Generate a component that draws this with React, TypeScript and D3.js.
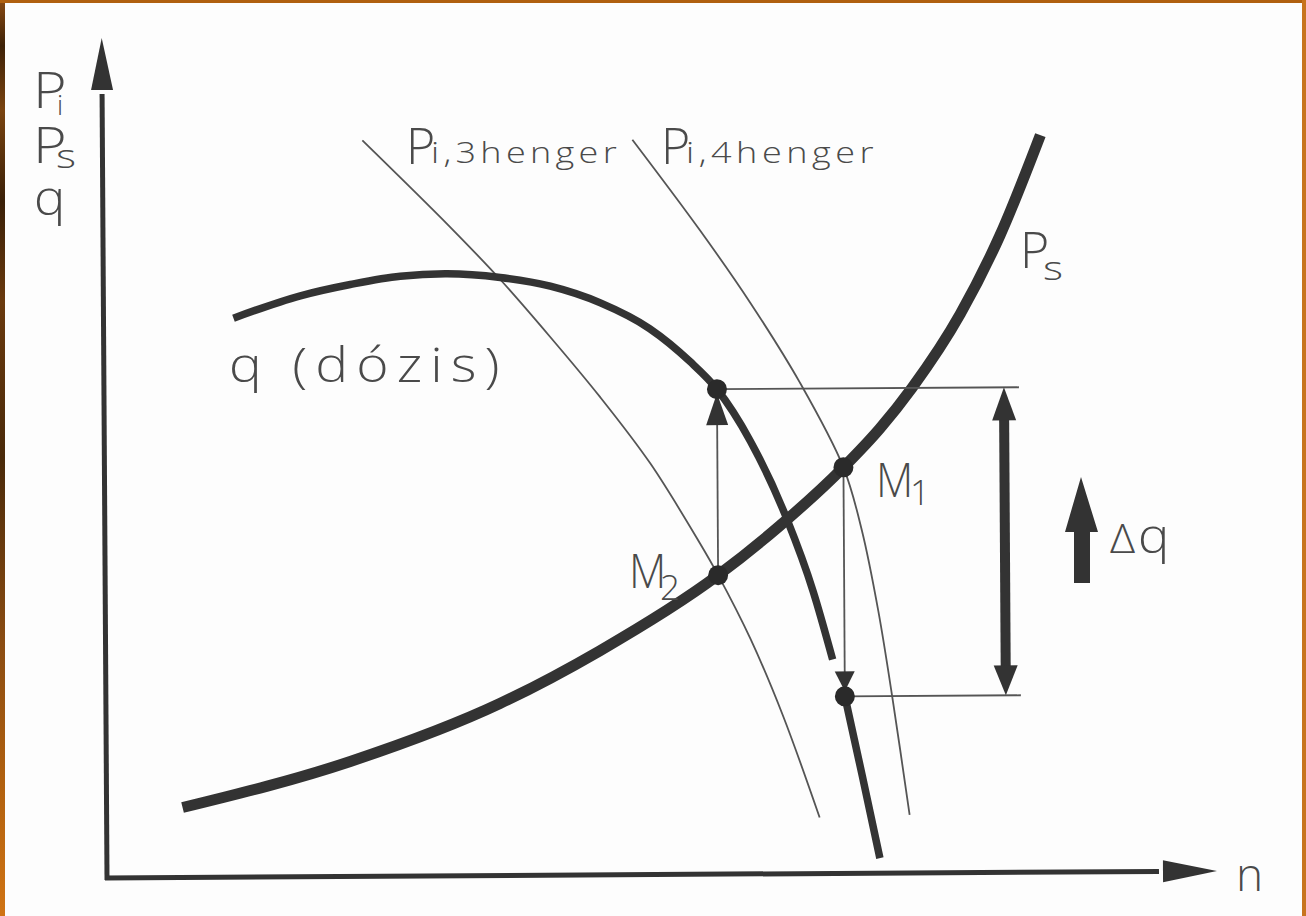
import React from 'react';
import * as d3 from 'd3';

const W = 1306;
const H = 916;

// Drawing units: engine speed n along x, P / q along y
const N_MAX = 1110;
const V_MAX = 840;

// Traction demand curve P_s
const psN = [76, 244, 394, 494, 613, 675, 739, 776, 808, 857, 897, 938];
const psV = [70, 115, 172, 224, 299, 348, 406, 445, 485, 559, 637, 737];

// Injected dose q (one break where the M1 arrow lands)
const qN = [130, 197, 247, 297, 342, 397, 447, 497, 546, 586, 613, 646, 682, 708, 727, 733, 739, 756, 773];
const qV: (number | null)[] = [559, 581, 592, 600, 602, 598, 589, 572, 546, 513, 485, 433, 355, 282, 214, null, 177, 97, 15];

// Indicated power, 3 cylinders
const pi3N = [260, 347, 397, 446, 496, 546, 595, 613, 645, 677, 713];
const pi3V = [736, 649, 596, 539, 478, 411, 331, 299, 235, 158, 56];

// Indicated power, 4 cylinders
const pi4N = [530, 597, 647, 696, 739, 757, 773, 787, 803];
const pi4V = [735, 644, 571, 491, 406, 343, 262, 172, 58];

// Operating points
const m1 = { n: 739, v: 406 };
const m2 = { n: 613, v: 299 };
const qAtM2 = 485;
const qAtM1 = 177;
const dqGuideEnd = 915;
const dqArrowN = 900;

const INK = '#333333';
const THIN = '#555555';
const TEXT = '#4a4a4a';
const FONT = "'Open Sans', 'DejaVu Sans', sans-serif";

type Pt = { n: number; v: number | null };
const zip = (ns: number[], vs: (number | null)[]): Pt[] => ns.map((n, i) => ({ n, v: vs[i] }));

type LabelProps = {
  x: number;
  y: number;
  size: number;
  text: string;
  sx?: number;
  ls?: number;
};

// Lettering in the wide, airy drafting style
function Label({ x, y, size, text, sx = 1, ls = 0 }: LabelProps) {
  return (
    <text transform={`translate(${x},${y}) scale(${sx},1)`} fontSize={size} letterSpacing={ls}>
      {text}
    </text>
  );
}

export default function App() {
  const x = d3.scaleLinear().domain([0, N_MAX]).range([107, 1217]);
  const y = d3.scaleLinear().domain([0, V_MAX]).range([878, 38]);

  const makeLine = (curve: d3.CurveFactory) =>
    d3
      .line<Pt>()
      .defined((d) => d.v != null)
      .x((d) => x(d.n))
      .y((d) => y(d.v as number))
      .curve(curve);

  const thick = makeLine(d3.curveMonotoneX);
  const thin = makeLine(d3.curveCatmullRom.alpha(0.5));

  const ps = thick(zip(psN, psV)) || '';
  const q = thick(zip(qN, qV)) || '';
  const pi3 = thin(zip(pi3N, pi3V)) || '';
  const pi4 = thin(zip(pi4N, pi4V)) || '';

  const ax0 = x(0);
  const ay0 = y(0);

  const yTop = y(V_MAX);
  const yHeadBase = y(788);
  const xTip = x(N_MAX);
  const xHeadBase = x(1056);

  const xA = x(m2.n);
  const yA = y(qAtM2);
  const xB = x(m1.n);
  const yB = y(qAtM1);
  const xDq = x(dqArrowN);

  return (
    <svg
      width={W}
      height={H}
      style={{ position: 'fixed', left: 0, top: 0, background: '#fdfdfd' }}
      xmlns="http://www.w3.org/2000/svg"
    >
      <defs>
        <linearGradient id="edge" x1="0" y1="0" x2="0" y2="1">
          <stop offset="0" stopColor="#8a4a12" />
          <stop offset="0.05" stopColor="#3e2208" />
          <stop offset="0.12" stopColor="#7a4410" />
          <stop offset="0.22" stopColor="#3a2008" />
          <stop offset="0.33" stopColor="#6a3a0e" />
          <stop offset="0.5" stopColor="#4a2a0a" />
          <stop offset="0.7" stopColor="#8a4c12" />
          <stop offset="0.85" stopColor="#b0600f" />
          <stop offset="1" stopColor="#d07414" />
        </linearGradient>
      </defs>
      <rect x={0} y={0} width={W} height={H} fill="#fdfdfd" />

      <g transform={`rotate(-0.36, ${ax0}, ${ay0})`}>
        {/* axes */}
        <line x1={ax0} y1={ay0 + 2} x2={ax0} y2={yHeadBase + 4} stroke={INK} strokeWidth={5} />
        <polygon points={`${ax0},${yTop} ${ax0 - 11},${yHeadBase} ${ax0 + 11},${yHeadBase}`} fill={INK} />
        <line x1={ax0 - 2} y1={ay0} x2={xHeadBase - 4} y2={ay0} stroke={INK} strokeWidth={5} />
        <polygon points={`${xTip},${ay0} ${xHeadBase},${ay0 - 11} ${xHeadBase},${ay0 + 11}`} fill={INK} />

        {/* indicated power curves */}
        <path d={pi3} fill="none" stroke={THIN} strokeWidth={1.8} />
        <path d={pi4} fill="none" stroke={THIN} strokeWidth={1.8} />

        {/* dose curve */}
        <path d={q} fill="none" stroke={INK} strokeWidth={7.5} />

        {/* demand curve */}
        <path d={ps} fill="none" stroke={INK} strokeWidth={11} />

        {/* guide lines for the dose step */}
        <line x1={xA} y1={yA} x2={x(dqGuideEnd)} y2={yA} stroke={THIN} strokeWidth={1.8} />
        <line x1={xB} y1={yB} x2={x(dqGuideEnd)} y2={yB} stroke={THIN} strokeWidth={1.8} />

        {/* M2 -> higher dose */}
        <line x1={xA} y1={y(m2.v)} x2={xA} y2={yA + 20} stroke={THIN} strokeWidth={1.8} />
        <polygon points={`${xA},${yA + 4} ${xA - 11},${yA + 36} ${xA + 11},${yA + 36}`} fill={INK} />

        {/* M1 -> lower dose */}
        <line x1={xB} y1={y(m1.v)} x2={xB} y2={yB - 20} stroke={THIN} strokeWidth={1.8} />
        <polygon points={`${xB},${yB - 5} ${xB - 10},${yB - 25} ${xB + 10},${yB - 25}`} fill={INK} />

        {/* Δq double arrow */}
        <line x1={xDq} y1={yA + 28} x2={xDq} y2={yB - 25} stroke={INK} strokeWidth={10} />
        <polygon points={`${xDq},${yA} ${xDq - 12},${yA + 33} ${xDq + 12},${yA + 33}`} fill={INK} />
        <polygon points={`${xDq},${yB} ${xDq - 12},${yB - 30} ${xDq + 12},${yB - 30}`} fill={INK} />

        {/* operating points */}
        {[
          { n: m2.n, v: qAtM2 },
          { n: m1.n, v: qAtM1 },
          m1,
          m2,
        ].map((p, i) => (
          <circle key={i} cx={x(p.n)} cy={y(p.v)} r={10} fill="#2a2a2a" />
        ))}
      </g>

      {/* Δq direction glyph */}
      <polygon
        points="1074,583 1090,583 1090,532 1098,532 1081,477 1065,532 1074,532"
        fill={INK}
      />

      <g fontFamily={FONT} fontWeight={300} fill={TEXT}>
        {/* axis title */}
        <Label x={33} y={108} size={50} text="P" sx={1.15} />
        <Label x={57} y={115} size={27} text="i" />
        <Label x={33} y={163} size={50} text="P" sx={1.15} />
        <Label x={56} y={168} size={33} text="s" sx={1.3} />
        <Label x={34} y={215} size={48} text="q" sx={1.1} />

        <Label x={1236} y={891} size={46} text="n" />

        <Label x={406} y={164} size={50} text="P" />
        <Label x={431} y={163} size={30} text="i,3henger" sx={1.2} ls={3.6} />
        <Label x={661} y={164} size={50} text="P" />
        <Label x={686} y={163} size={30} text="i,4henger" sx={1.2} ls={3.8} />

        <Label x={1020} y={268} size={50} text="P" />
        <Label x={1043} y={280} size={33} text="s" sx={1.3} />

        <Label x={229} y={382} size={48} text="q (dózis)" sx={1.15} ls={7} />

        <Label x={876} y={497} size={48} text="M" sx={0.9} />
        <Label x={910} y={505} size={35} text="1" />
        <Label x={629} y={588} size={48} text="M" sx={0.9} />
        <Label x={660} y={600} size={35} text="2" />

        <Label x={1110} y={553} size={40} text="Δ" sx={1.1} />
        <Label x={1138} y={553} size={48} text="q" sx={1.1} />
      </g>

      {/* scanned page edge */}
      <rect x={0} y={0} width={5} height={H} fill="url(#edge)" />
      <rect x={0} y={0} width={W} height={3} fill="#b0600f" />
      <rect x={W - 4} y={0} width={4} height={H} fill="#c8741e" />
    </svg>
  );
}
